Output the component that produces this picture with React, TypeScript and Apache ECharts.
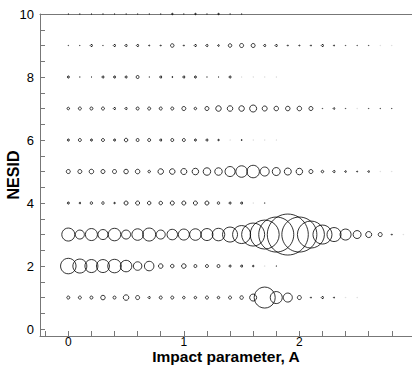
import React, { useEffect, useRef } from "react";
import * as echarts from "echarts";

// Impact parameter positions (A)
const impact = [0, 0.1, 0.2, 0.3, 0.4, 0.5, 0.6, 0.7, 0.8, 0.9, 1.0, 1.1, 1.2, 1.3, 1.4, 1.5, 1.6, 1.7, 1.8, 1.9, 2.0, 2.1, 2.2, 2.3, 2.4, 2.5, 2.6, 2.7, 2.8, 2.9];

// Bubble diameters (px) per NESID row, indexed by impact parameter; 0 = no point
const nesid1 = [4, 4, 4, 5.5, 4, 6.5, 5, 3, 4, 4, 3.5, 3.5, 4, 3.5, 4, 4.5, 8, 22, 13, 10, 5, 2, 3, 2, 0.5, 0.5];
const nesid2 = [16.5, 15, 14, 14, 14.5, 12.5, 9.5, 10.5, 5.5, 4.5, 5.5, 4, 4, 4, 3, 3, 2.5, 0.5, 1.5];
const nesid3 = [14, 10, 13, 11, 13.5, 10, 12.5, 14, 10, 11.5, 12, 12.5, 13, 13.5, 16, 19, 24, 30, 36, 42, 36, 28, 20, 15, 12, 9, 7, 5, 2, 0.5];
const nesid4 = [3, 2.5, 3.5, 3.5, 2.5, 5, 5, 4.5, 4.5, 5, 5, 5, 5, 3.5, 3, 3, 0.5, 1.5];
const nesid5 = [5, 5, 5.5, 5, 5, 5.5, 5.5, 3.5, 6.5, 6.5, 7, 7.5, 8.5, 8.5, 11, 12.5, 13.5, 10, 9, 8, 7.5, 5, 3.5, 3, 2.5, 2, 2.5, 0.5, 0.5];
const nesid6 = [3, 4, 3, 4, 3, 4.5, 4, 4, 3, 4, 4, 3, 3, 2.5, 0.5, 2, 0.5, 0.5, 0.5];
const nesid7 = [3.5, 4, 4, 4, 3, 3, 4, 4, 4, 4, 5, 3.5, 5, 6.5, 6.5, 6.5, 8, 6, 5.5, 5.5, 5.5, 5, 1.5, 2.5, 1.5, 0.5, 1.5, 1.5, 1.5];
const nesid8 = [3, 1.5, 1.5, 3, 3, 3, 4, 1.5, 3, 2, 3, 3, 1.5, 1.5, 3, 0.5, 0.5, 0.5, 0.5];
const nesid9 = [1.5, 1.5, 3, 1.5, 3, 3, 3, 2, 2, 4.5, 2, 3, 3, 2.5, 4.5, 5, 5, 3, 3, 2, 2, 2, 3, 2, 1.5, 1.5, 1.5, 0.5, 0.5];
const nesid10 = [1.5, 1.5, 1.5, 1.5, 1.5, 1.5, 1.5, 1.5, 1.5, 2.5, 1.5, 2.5, 1.5, 2.5, 1.5, 1.5];

const rows = [nesid1, nesid2, nesid3, nesid4, nesid5, nesid6, nesid7, nesid8, nesid9, nesid10];
const nesidValues = [1, 2, 3, 4, 5, 6, 7, 8, 9, 10];

const xTickValues = [-0.2, 0, 0.2, 0.4, 0.6, 0.8, 1, 1.2, 1.4, 1.6, 1.8, 2, 2.2, 2.4, 2.6, 2.8];
const xLabelValues = [0, 1, 2];
const yTickValues = [0, 0.5, 1, 1.5, 2, 2.5, 3, 3.5, 4, 4.5, 5, 5.5, 6, 6.5, 7, 7.5, 8, 8.5, 9, 9.5, 10];
const yLabelValues = [0, 2, 4, 6, 8, 10];

export default function App() {
  const ref = useRef<HTMLDivElement>(null);
  useEffect(() => {
    if (!ref.current) return;
    const chart = echarts.init(ref.current, null, { renderer: "svg" });
    const data: any[] = [];
    rows.forEach((row, r) => {
      row.forEach((d, i) => {
        if (!d) return;
        const faint = d < 1;
        data.push({
          value: [impact[i], nesidValues[r]],
          symbolSize: faint ? 0.6 : Math.max(d - 1, 0.5),
          itemStyle: {
            color: "transparent",
            borderColor: faint ? "#c8c8c8" : "#000",
            borderWidth: faint ? 0.8 : 1,
          },
        });
      });
    });
    const font = "'Liberation Sans', Arial, sans-serif";
    const axisColor = "#777";
    chart.setOption({
      animation: false,
      backgroundColor: "#fff",
      grid: { left: 40, top: 14, right: 0, bottom: 33, containLabel: false, outerBoundsMode: "none" },
      xAxis: [
        {
          type: "value",
          min: -0.245,
          max: 2.975,
          position: "bottom",
          axisLine: { show: true, onZero: false, lineStyle: { color: axisColor, width: 1 } },
          axisTick: { show: true, inside: true, length: 5, customValues: xTickValues, lineStyle: { color: axisColor } },
          axisLabel: { customValues: xLabelValues, fontSize: 12, lineHeight: 12, color: "#000", margin: 0, fontFamily: font },
          splitLine: { show: false },
          name: "Impact parameter, A",
          nameLocation: "middle",
          nameGap: 13,
          nameMoveOverlap: false,
          nameTextStyle: { fontSize: 15.5, lineHeight: 15.5, fontWeight: "bold", color: "#000", fontFamily: font, verticalAlign: "top" },
        },
        {
          type: "value",
          min: -0.245,
          max: 2.975,
          position: "top",
          axisLine: { show: true, onZero: false, lineStyle: { color: axisColor, width: 1 } },
          axisTick: { show: false },
          axisLabel: { show: false },
          splitLine: { show: false },
        },
      ],
      yAxis: {
        type: "value",
        min: -0.22,
        max: 10,
        axisLine: { show: true, onZero: false, lineStyle: { color: axisColor, width: 1 } },
        axisTick: { show: true, inside: true, length: 5, customValues: yTickValues, lineStyle: { color: axisColor } },
        axisLabel: { customValues: yLabelValues, fontSize: 13, color: "#000", margin: 6, fontFamily: font },
        splitLine: { show: false },
        name: "NESID",
        nameLocation: "middle",
        nameGap: 19,
        nameMoveOverlap: false,
        nameTextStyle: { fontSize: 16, fontWeight: "bold", color: "#000", fontFamily: font },
      },
      series: [
        {
          type: "scatter",
          xAxisIndex: 0,
          symbol: "circle",
          clip: false,
          data,
          emphasis: { disabled: true },
        },
      ],
    });
    return () => chart.dispose();
  }, []);
  return <div ref={ref} style={{ position: "absolute", left: 0, top: 0, width: 412, height: 369 }} />;
}
